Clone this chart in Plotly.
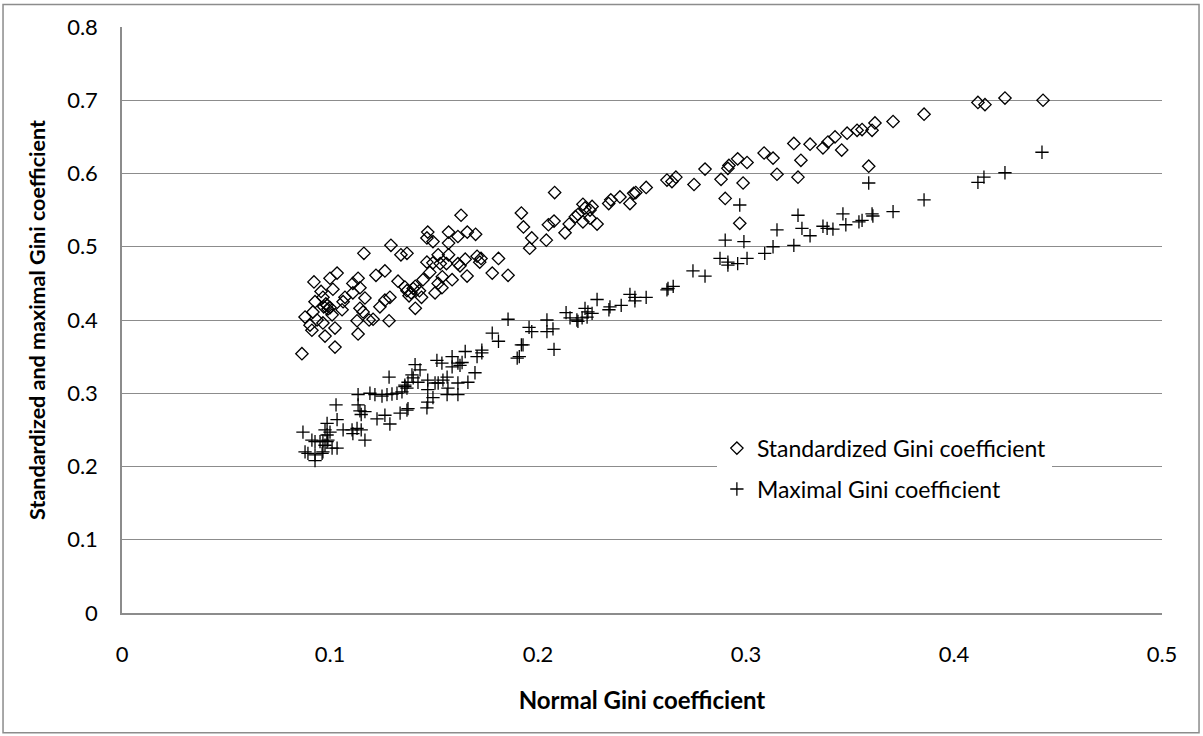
import plotly.graph_objects as go

# Standardized Gini coefficient (diamonds)
std_x = [0.0865,0.1293,0.1163,0.1341,0.137,0.1034,0.1,0.0923,0.1135,0.1221,0.1264,0.1014,0.111,0.1144,0.0957,
         0.0966,0.111,0.1072,0.1063,0.0928,0.0986,0.099,0.1168,0.1144,0.1159,0.1327,0.136,0.1288,0.1264,0.124,
         0.1207,0.1188,0.113,0.1284,0.1058,0.101,0.0918,0.088,0.0938,0.0904,0.0913,0.0966,0.1024,0.0976,0.1135,
         0.1024,0.097,0.098,0.100,
         0.147,0.157,0.1615,0.166,0.170,0.1466,0.1495,0.157,0.152,0.157,0.1466,0.1495,0.153,0.156,0.1615,0.1625,
         0.165,0.1707,0.1726,0.172,0.181,0.148,0.1447,0.154,0.1587,0.152,0.1538,0.1505,0.1659,0.178,0.1856,
         0.137,0.139,0.14,0.138,0.141,0.143,0.144,0.141,0.163,
         0.208,0.192,0.193,0.197,0.196,0.204,0.205,0.2077,0.213,0.215,0.218,0.2192,0.2216,0.2226,0.225,0.226,
         0.2216,0.225,0.2284,0.234,0.235,0.2394,0.2442,0.246,0.247,0.252,0.262,0.2644,0.2663,0.275,
         0.2803,0.288,0.2913,0.2918,0.296,0.3005,0.2986,0.29,0.3087,0.313,0.3149,0.323,0.3264,0.325,0.3308,
         0.337,0.3394,0.3428,0.3486,0.346,0.3534,0.3558,0.3606,0.362,0.359,0.297,
         0.3707,0.3856,0.4115,0.4149,0.4245,0.4428]
std_y = [0.354,0.502,0.491,0.489,0.491,0.464,0.457,0.452,0.457,0.461,0.467,0.442,0.45,0.444,0.439,
         0.431,0.437,0.431,0.425,0.425,0.42,0.415,0.43,0.416,0.411,0.453,0.445,0.431,0.427,0.418,
         0.401,0.4,0.399,0.399,0.414,0.407,0.411,0.404,0.4,0.393,0.386,0.396,0.389,0.378,0.381,
         0.363,0.418,0.422,0.417,
         0.520,0.520,0.514,0.52,0.517,0.512,0.507,0.505,0.489,0.489,0.479,0.478,0.477,0.477,0.477,0.474,
         0.483,0.487,0.484,0.479,0.484,0.465,0.455,0.459,0.455,0.450,0.444,0.437,0.460,0.464,0.461,
         0.44,0.437,0.443,0.433,0.446,0.44,0.431,0.416,0.543,
         0.574,0.546,0.527,0.512,0.498,0.509,0.530,0.535,0.519,0.531,0.541,0.544,0.558,0.553,0.550,0.555,
         0.534,0.539,0.531,0.559,0.564,0.568,0.559,0.573,0.574,0.581,0.591,0.589,0.595,0.585,
         0.606,0.592,0.607,0.611,0.620,0.615,0.587,0.566,0.628,0.621,0.599,0.641,0.618,0.595,0.640,
         0.635,0.643,0.650,0.655,0.632,0.659,0.660,0.659,0.669,0.61,0.532,
         0.671,0.681,0.697,0.694,0.703,0.70]

# Maximal Gini coefficient (crosses)
max_x = [0.1284,0.136,0.137,0.1346,0.1322,0.1298,0.1274,0.125,0.1216,0.1192,0.1135,0.1029,0.1135,0.1144,0.1168,
         0.115,0.1337,0.137,0.1264,0.1226,0.1288,0.1034,0.0986,0.0976,0.0986,0.1,0.1063,0.1106,0.113,0.115,
         0.111,0.1168,0.087,0.0913,0.0928,0.0952,0.0966,0.099,0.101,0.0966,0.1034,0.088,0.0894,0.0928,0.0962,
         0.0928,0.0976,0.0986,
         0.178,0.181,0.192,0.190,0.173,0.173,0.1707,0.165,0.1587,0.1514,0.1538,0.1615,0.1635,0.1625,0.1587,
         0.1409,0.1433,0.1394,0.14,0.1375,0.136,0.1697,0.1663,0.1615,0.1563,0.1543,0.147,0.1505,0.152,0.147,
         0.1567,0.1563,0.1615,0.1495,0.147,0.1466,0.1375,0.1423,0.1856,
         0.2745,0.265,0.262,0.2625,0.252,0.2466,0.2442,0.2466,0.24,0.2346,0.2341,0.2284,0.226,0.224,0.2226,
         0.2236,0.2212,0.2192,0.2187,0.2154,0.2135,0.2043,0.2043,0.2072,0.1957,0.197,0.1928,0.2077,0.191,
         0.297,0.325,0.3466,0.3606,0.3269,0.3149,0.3308,0.337,0.339,0.3418,0.348,0.3543,0.3558,0.361,0.29,
         0.299,0.313,0.309,0.323,0.2875,0.2913,0.2913,0.296,0.3005,0.2803,
         0.359,0.3707,0.3856,0.4115,0.4144,0.4245,0.4423]
max_y = [0.322,0.311,0.307,0.302,0.300,0.299,0.298,0.296,0.298,0.300,0.298,0.284,0.284,0.276,0.275,
         0.271,0.273,0.277,0.270,0.265,0.258,0.264,0.259,0.250,0.243,0.247,0.250,0.250,0.252,0.250,
         0.245,0.236,0.247,0.236,0.234,0.234,0.235,0.236,0.225,0.220,0.225,0.220,0.218,0.216,0.218,
         0.208,0.229,0.234,
         0.382,0.371,0.366,0.348,0.359,0.355,0.350,0.357,0.350,0.345,0.341,0.341,0.342,0.338,0.336,
         0.339,0.332,0.325,0.321,0.315,0.309,0.328,0.315,0.314,0.322,0.318,0.318,0.314,0.314,0.305,
         0.307,0.298,0.298,0.294,0.288,0.280,0.279,0.315,0.401,
         0.467,0.446,0.441,0.443,0.431,0.431,0.435,0.426,0.420,0.418,0.414,0.428,0.409,0.411,0.416,
         0.404,0.403,0.398,0.400,0.403,0.410,0.400,0.384,0.388,0.390,0.384,0.366,0.360,0.350,
         0.557,0.543,0.545,0.545,0.525,0.523,0.515,0.528,0.525,0.524,0.530,0.534,0.536,0.542,0.509,
         0.507,0.500,0.491,0.502,0.484,0.475,0.479,0.477,0.484,0.460,
         0.587,0.548,0.564,0.588,0.595,0.601,0.629]

FONT = "Lato"
GRID = "#8c8c8c"

fig = go.Figure()
fig.add_trace(go.Scatter(
    x=std_x, y=std_y, mode="markers", name="Standardized Gini coefficient",
    legendgroup="a",
    marker=dict(symbol="diamond-open", size=9.5, color="black", line=dict(width=1.3, color="black")),
))
fig.add_trace(go.Scatter(
    x=max_x, y=max_y, mode="markers", name="Maximal Gini coefficient",
    legendgroup="b",
    marker=dict(symbol="cross-thin-open", size=9.5, color="black", line=dict(width=1.3, color="black")),
))

fig.update_layout(
    width=1203, height=736,
    margin=dict(l=122, r=41, t=27, b=123),
    paper_bgcolor="white", plot_bgcolor="white",
    font=dict(family=FONT, size=22, color="black"),
    showlegend=True,
    legend=dict(
        x=0.572, y=0.318, xanchor="left", yanchor="top",
        bgcolor="white", borderwidth=0,
        font=dict(family=FONT, size=23, color="black"),
        tracegroupgap=8, itemsizing="trace",
    ),
    xaxis=dict(
        range=[0, 0.5], dtick=0.1, tick0=0, showgrid=False, zeroline=False,
        showline=True, linecolor=GRID, linewidth=1.5, ticks="",
        ticklabelstandoff=21,
        tickfont=dict(family=FONT, size=22),
        title=dict(text="<b>Normal Gini coefficient</b>", font=dict(family=FONT, size=24), standoff=26),
    ),
    yaxis=dict(
        range=[0, 0.8], dtick=0.1, tick0=0, showgrid=True, gridcolor=GRID, gridwidth=1,
        zeroline=False, showline=True, linecolor=GRID, linewidth=1.5, ticks="",
        ticklabelstandoff=18,
        tickfont=dict(family=FONT, size=22),
        title=dict(text="<b>Standardized and maximal Gini coefficient</b>", font=dict(family=FONT, size=21.5), standoff=16),
    ),
    shapes=[dict(type="rect", xref="paper", yref="paper",
                 x0=-0.1144, x1=1.0356, y0=-0.2045, y1=1.0386,
                 line=dict(color=GRID, width=1.5), fillcolor="rgba(0,0,0,0)", layer="below")],
)

fig.write_html("out.html")
